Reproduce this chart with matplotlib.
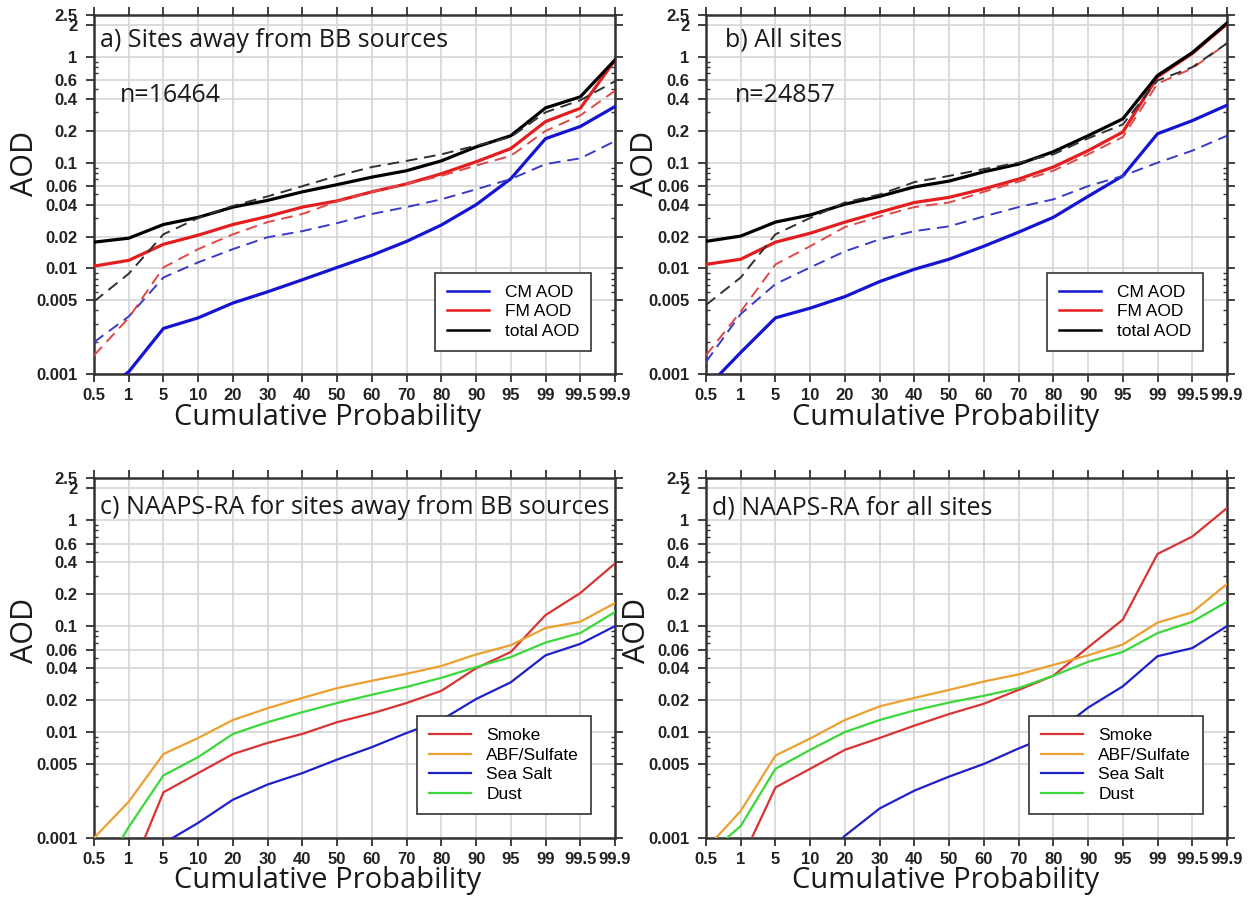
import numpy as np
import matplotlib
matplotlib.use("Agg")
import matplotlib.pyplot as plt
from matplotlib.ticker import FixedLocator, LogLocator, NullFormatter

# ---------------- data ----------------
prob_labels = ["0.5", "1", "5", "10", "20", "30", "40", "50", "60", "70", "80",
               "90", "95", "99", "99.5", "99.9"]

# panel a (sites away from BB sources) - solid: AERONET, dashed: NAAPS-RA
a_cm = [0.0006, 0.00105, 0.0027, 0.0034, 0.0047, 0.006, 0.0078, 0.0102, 0.0133,
        0.018, 0.0257, 0.040, 0.0705, 0.169, 0.22, 0.34]
a_fm = [0.0105, 0.0119, 0.0169, 0.0206, 0.026, 0.031, 0.038, 0.0435, 0.053,
        0.063, 0.0786, 0.102, 0.136, 0.245, 0.327, 0.935]
a_tot = [0.0177, 0.0193, 0.026, 0.0304, 0.038, 0.044, 0.053, 0.062, 0.073,
         0.084, 0.104, 0.141, 0.18, 0.33, 0.42, 0.94]
a_cm_d = [0.002, 0.0035, 0.0082, 0.0114, 0.0152, 0.0197, 0.0225, 0.0268, 0.0327,
          0.038, 0.045, 0.056, 0.07, 0.097, 0.11, 0.16]
a_fm_d = [0.0015, 0.0034, 0.0102, 0.0152, 0.021, 0.0274, 0.0327, 0.043, 0.053,
          0.063, 0.075, 0.094, 0.116, 0.2, 0.28, 0.48]
a_tot_d = [0.00485, 0.0089, 0.021, 0.030, 0.039, 0.048, 0.060, 0.075, 0.091,
           0.104, 0.12, 0.145, 0.175, 0.30, 0.39, 0.59]

# panel b (all sites)
b_cm = [0.00073, 0.0016, 0.0034, 0.0042, 0.0054, 0.0075, 0.0098, 0.0122, 0.0162,
        0.022, 0.0304, 0.048, 0.075, 0.188, 0.25, 0.35]
b_fm = [0.0109, 0.0122, 0.0177, 0.0215, 0.0274, 0.034, 0.042, 0.047, 0.0565,
        0.07, 0.091, 0.13, 0.195, 0.65, 1.08, 2.05]
b_tot = [0.018, 0.0202, 0.0274, 0.032, 0.0405, 0.048, 0.059, 0.067, 0.082,
         0.097, 0.127, 0.18, 0.26, 0.67, 1.1, 2.1]
b_cm_d = [0.0013, 0.0037, 0.0071, 0.0102, 0.0145, 0.0188, 0.0225, 0.025, 0.031,
          0.038, 0.045, 0.06, 0.075, 0.1, 0.13, 0.18]
b_fm_d = [0.0015, 0.0039, 0.0109, 0.0162, 0.0246, 0.031, 0.038, 0.042, 0.053,
          0.066, 0.084, 0.12, 0.175, 0.56, 0.78, 1.35]
b_tot_d = [0.0045, 0.0082, 0.021, 0.030, 0.042, 0.05, 0.0655, 0.075, 0.087,
           0.1, 0.12, 0.17, 0.23, 0.6, 0.8, 1.35]

# panel c (NAAPS-RA species, sites away from BB sources)
c_smoke = [0.0002, 0.00043, 0.0027, 0.0041, 0.0062, 0.0079, 0.0096, 0.0124, 0.015,
           0.0188, 0.0245, 0.040, 0.057, 0.127, 0.205, 0.39]
c_abf = [0.001, 0.0022, 0.0062, 0.0088, 0.013, 0.0168, 0.021, 0.026, 0.0305,
         0.0355, 0.042, 0.054, 0.066, 0.096, 0.11, 0.165]
c_salt = [0.0002, 0.0003, 0.00089, 0.00139, 0.0023, 0.0032, 0.0041, 0.0055, 0.0072,
          0.0098, 0.013, 0.0205, 0.0295, 0.053, 0.068, 0.1]
c_dust = [0.00036, 0.00127, 0.0039, 0.0058, 0.0096, 0.0124, 0.0154, 0.0188, 0.0225,
          0.0267, 0.0325, 0.041, 0.051, 0.07, 0.086, 0.136]

# panel d (NAAPS-RA species, all sites)
d_smoke = [0.0003, 0.0006, 0.003, 0.0045, 0.0068, 0.0088, 0.0115, 0.0148, 0.0185,
           0.025, 0.034, 0.063, 0.115, 0.48, 0.7, 1.3]
d_abf = [0.00079, 0.0018, 0.006, 0.0087, 0.013, 0.0175, 0.021, 0.025, 0.03,
         0.035, 0.043, 0.053, 0.067, 0.108, 0.135, 0.25]
d_salt = [0.0001, 0.0002, 0.0003, 0.0005, 0.00105, 0.0019, 0.0028, 0.0038, 0.005,
          0.007, 0.0095, 0.017, 0.027, 0.052, 0.062, 0.1]
d_dust = [0.00067, 0.0013, 0.0045, 0.0068, 0.01, 0.013, 0.016, 0.019, 0.022,
          0.026, 0.034, 0.046, 0.057, 0.086, 0.11, 0.17]

ytick_vals = [0.001, 0.005, 0.01, 0.02, 0.04, 0.06, 0.1, 0.2, 0.4, 0.6, 1, 2, 2.5]
ytick_labels = ["0.001", "0.005", "0.01", "0.02", "0.04", "0.06", "0.1", "0.2",
                "0.4", "0.6", "1", "2", "2.5"]

# ---------------- style ----------------
TITLE_FONT = ["Open Sans", "DejaVu Sans"]
TICK_FONT = ["Liberation Sans", "DejaVu Sans"]

C_BLUE = "#1414d2"
C_RED = "#e41e1e"
C_BLACK = "#000000"
C_BLUE_D = "#3a3ac8"
C_RED_D = "#e04848"
C_BLACK_D = "#303030"
C_SMOKE = "#d83434"
C_ABF = "#eba030"
C_SALT = "#2020c8"
C_DUST = "#3ad83a"

W, H = 1252, 897
fig = plt.figure(figsize=(W / 100, H / 100), dpi=100)

def px_axes(l, t, r, b):
    return fig.add_axes([l / W, 1 - b / H, (r - l) / W, (b - t) / H])

ax_a = px_axes(94, 15, 615, 374)
ax_b = px_axes(706, 15, 1227, 374)
ax_c = px_axes(94, 478, 615, 838)
ax_d = px_axes(706, 478, 1227, 838)

x = np.arange(len(prob_labels))

def style_axes(ax):
    ax.set_yscale("log")
    ax.set_ylim(0.001, 2.5)
    ax.set_xlim(0, len(prob_labels) - 1)
    ax.set_xticks(x)
    ax.set_xticklabels(prob_labels, fontfamily=TICK_FONT, fontweight="bold",
                       fontsize=12, color="#222222")
    ax.yaxis.set_major_locator(FixedLocator(ytick_vals))
    ax.set_yticklabels(ytick_labels, fontfamily=TICK_FONT, fontweight="bold",
                       fontsize=12, color="#222222")
    ax.yaxis.set_minor_locator(LogLocator(base=10, subs=np.arange(2, 10) * 1.0, numticks=20))
    ax.yaxis.set_minor_formatter(NullFormatter())
    ax.grid(True, which="major", color="#d6d6d6", lw=1.2, zorder=0)
    ax.tick_params(which="major", direction="out", length=6, width=1.3,
                   top=True, right=True, color="#333333", pad=4)
    ax.tick_params(which="minor", direction="in", length=3, width=1.0,
                   left=True, right=True, color="#333333")
    ax.tick_params(axis="y", which="major", pad=6)
    for s in ax.spines.values():
        s.set_linewidth(1.8)
        s.set_color("#333333")
    ax.set_axisbelow(True)

for ax in (ax_a, ax_b, ax_c, ax_d):
    style_axes(ax)

def make_legend(ax, yoff, lw):
    leg = ax.legend(loc="lower right", bbox_to_anchor=(0.954, yoff),
                    borderaxespad=0, fancybox=False, framealpha=1,
                    edgecolor="#333333", handlelength=2.4, handletextpad=0.9,
                    labelspacing=0.25, borderpad=0.7,
                    prop={"family": TICK_FONT, "size": 12.5})
    leg.get_frame().set_linewidth(1.2)
    for h in leg.get_lines():
        h.set_linewidth(lw)
    leg.set_zorder(10)
    return leg

def top_panel(ax, cm, fm, tot, cm_d, fm_d, tot_d):
    ax.plot(x, cm, color=C_BLUE, lw=2.3, label="CM AOD", zorder=3)
    ax.plot(x, fm, color=C_RED, lw=2.3, label="FM AOD", zorder=3)
    ax.plot(x, tot, color=C_BLACK, lw=2.3, label="total AOD", zorder=3)
    ax.plot(x, cm_d, color=C_BLUE_D, lw=1.4, dashes=(6, 3.5), zorder=4)
    ax.plot(x, fm_d, color=C_RED_D, lw=1.4, dashes=(6, 3.5), zorder=4)
    ax.plot(x, tot_d, color=C_BLACK_D, lw=1.4, dashes=(6, 3.5), zorder=4)
    make_legend(ax, 0.064, 1.8)

def bottom_panel(ax, smoke, abf, salt, dust):
    ax.plot(x, smoke, color=C_SMOKE, lw=1.6, label="Smoke", zorder=3)
    ax.plot(x, abf, color=C_ABF, lw=1.6, label="ABF/Sulfate", zorder=3)
    ax.plot(x, salt, color=C_SALT, lw=1.6, label="Sea Salt", zorder=3)
    ax.plot(x, dust, color=C_DUST, lw=1.6, label="Dust", zorder=3)
    make_legend(ax, 0.067, 1.6)

top_panel(ax_a, a_cm, a_fm, a_tot, a_cm_d, a_fm_d, a_tot_d)
top_panel(ax_b, b_cm, b_fm, b_tot, b_cm_d, b_fm_d, b_tot_d)
bottom_panel(ax_c, c_smoke, c_abf, c_salt, c_dust)
bottom_panel(ax_d, d_smoke, d_abf, d_salt, d_dust)

# panel texts
def ptext(ax, xf, yf, s, size=18):
    ax.text(xf, yf, s, transform=ax.transAxes, ha="left", va="center",
            fontfamily=TITLE_FONT, fontsize=size, color="#1a1a1a", zorder=11)

ptext(ax_a, 0.012, 0.930, "a) Sites away from BB sources")
ptext(ax_a, 0.05, 0.777, "n=16464")
ptext(ax_b, 0.036, 0.930, "b) All sites")
ptext(ax_b, 0.056, 0.777, "n=24857")
ptext(ax_c, 0.012, 0.917, "c) NAAPS-RA for sites away from BB sources")
ptext(ax_d, 0.012, 0.917, "d) NAAPS-RA for all sites")

# axis labels via figure pixels
def ftext(xp, yp, s, size, rot=0):
    fig.text(xp / W, 1 - yp / H, s, ha="center", va="center", rotation=rot,
             fontfamily=TITLE_FONT, fontsize=size, color="#1a1a1a")

for xp, yp in [(25, 163), (645, 163), (25, 630), (637, 630)]:
    ftext(xp, yp, "AOD", 22, rot=90)
for xp, yp in [(328, 417), (946, 417), (328, 880), (946, 880)]:
    ftext(xp, yp, "Cumulative Probability", 21)

fig.savefig("out.png", dpi=100)
